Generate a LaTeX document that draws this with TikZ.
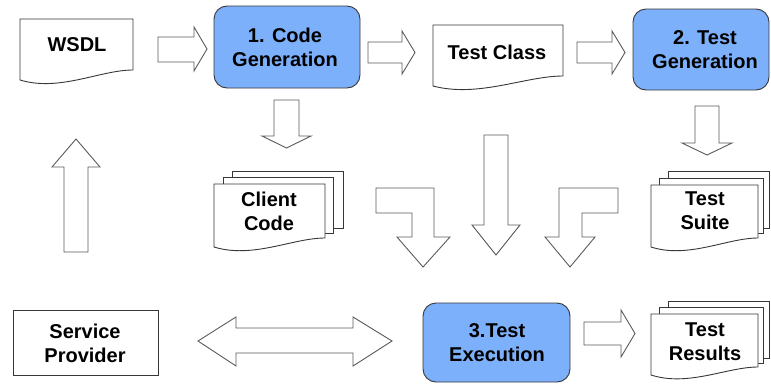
\documentclass[tikz,border=0pt]{standalone}
\usepackage{fontspec}
\setmainfont{Liberation Sans}
\definecolor{stepblue}{RGB}{125,176,250}
\definecolor{edge}{RGB}{55,55,55}
\definecolor{arrowedge}{RGB}{90,90,90}

% a document sheet with a wavy lower edge: x1, y1, x2, y bottom-left, y bottom-right
\newcommand\docsheet[5]{%
  \filldraw[sheet] (#1,#2) -- (#3,#2) -- (#3,#5)
    .. controls ({#3-0.29*(#3-#1)},#5) and ({#1+0.35*(#3-#1)},{#4+12}) .. (#1,#4) -- cycle;}

\begin{document}
\begin{tikzpicture}[x=1pt,y=-1pt,
  sheet/.style={draw=edge, fill=white, line width=0.9pt, line join=miter},
  stepbox/.style={draw=edge, fill=stepblue, line width=0.9pt, rounded corners=13pt},
  blockarrow/.style={draw=arrowedge, fill=white, line width=0.9pt, line join=miter},
  lbl/.style={font=\fontsize{20}{24}\selectfont\bfseries, align=center, inner sep=0pt, text=black}]

\useasboundingbox (0,0) rectangle (771,383);

% ---- documents and process boxes ----
\docsheet{20}{19}{133}{80}{70}
\node[lbl] (wsdl) at (77,45) {WSDL};

\draw[stepbox] (214,6) rectangle (360,88);
\node[lbl] (codegen) at (285,47) {1. Code\\Generation};

\docsheet{433}{25}{563}{86}{76}
\node[lbl] (testclass) at (497,52) {Test Class};

\draw[stepbox] (633,9) rectangle (769,90);
\node[lbl] (testgen) at (705,49.5) {2. Test\\Generation};

% client code: stack of three sheets
\filldraw[sheet] (232,171) rectangle (343,228);
\filldraw[sheet] (223,177) rectangle (333,233);
\docsheet{214}{184}{325}{247}{238}
\node[lbl] (client) at (269,211) {Client\\Code};

% test suite: stack of three sheets
\filldraw[sheet] (668,171) rectangle (769,228);
\filldraw[sheet] (659,178) rectangle (763,233);
\docsheet{651}{185}{758}{247}{238}
\node[lbl] (suite) at (705,210.5) {Test\\Suite};

\draw[sheet] (13,310) rectangle (158,375);
\node[lbl] (provider) at (85,343.5) {Service\\Provider};

\draw[stepbox] (423,303) rectangle (570,382);
\node[lbl] (exec) at (497,342.5) {3.Test\\Execution};

% test results: stack of three sheets
\filldraw[sheet] (668,301) rectangle (769,358);
\filldraw[sheet] (659,307) rectangle (763,363);
\docsheet{651}{314}{758}{375}{367}
\node[lbl] (results) at (705,342) {Test\\Results};

% ---- block arrows ----
% WSDL -> code generation
\filldraw[blockarrow] (158,37) -- (194,37) -- (194,27) -- (207,49) -- (194,71) -- (194,62) -- (158,62) -- cycle;
% code generation -> test class
\filldraw[blockarrow] (368,42) -- (402,42) -- (402,31) -- (415,52.5) -- (402,74) -- (402,63) -- (368,63) -- cycle;
% test class -> test generation
\filldraw[blockarrow] (577,42) -- (612,42) -- (612,31) -- (625,52.5) -- (612,74) -- (612,63) -- (577,63) -- cycle;
% test execution -> test results
\filldraw[blockarrow] (584,322) -- (621,322) -- (621,310) -- (635,333.5) -- (621,357) -- (621,345) -- (584,345) -- cycle;
% code generation -> client code
\filldraw[blockarrow] (274,100) -- (299,100) -- (299,136) -- (311,136) -- (286.5,148) -- (262,136) -- (274,136) -- cycle;
% test generation -> test suite
\filldraw[blockarrow] (695,106) -- (719,106) -- (719,143) -- (732,143) -- (707,155) -- (682,143) -- (695,143) -- cycle;
% service provider -> WSDL
\filldraw[blockarrow] (64,252) -- (88,252) -- (88,167) -- (100,167) -- (76,139) -- (52,167) -- (64,167) -- cycle;
% test class -> test execution
\filldraw[blockarrow] (484,135) -- (508,135) -- (508,225) -- (520,225) -- (496,255) -- (472,225) -- (484,225) -- cycle;
% client code -> test execution (bent)
\filldraw[blockarrow] (376,188) -- (434,188) -- (434,237) -- (450,237) -- (423,267) -- (397,237) -- (412,237) -- (412,213) -- (376,213) -- cycle;
% test suite -> test execution (bent)
\filldraw[blockarrow] (618,188) -- (559,188) -- (559,237) -- (545,237) -- (570,267) -- (595,237) -- (582,237) -- (582,213) -- (618,213) -- cycle;
% service provider <-> test execution
\filldraw[blockarrow] (198,341) -- (236,317) -- (236,328) -- (353,328) -- (353,317) -- (392,341) -- (353,366) -- (353,353) -- (236,353) -- (236,366) -- cycle;

\end{tikzpicture}
\end{document}
